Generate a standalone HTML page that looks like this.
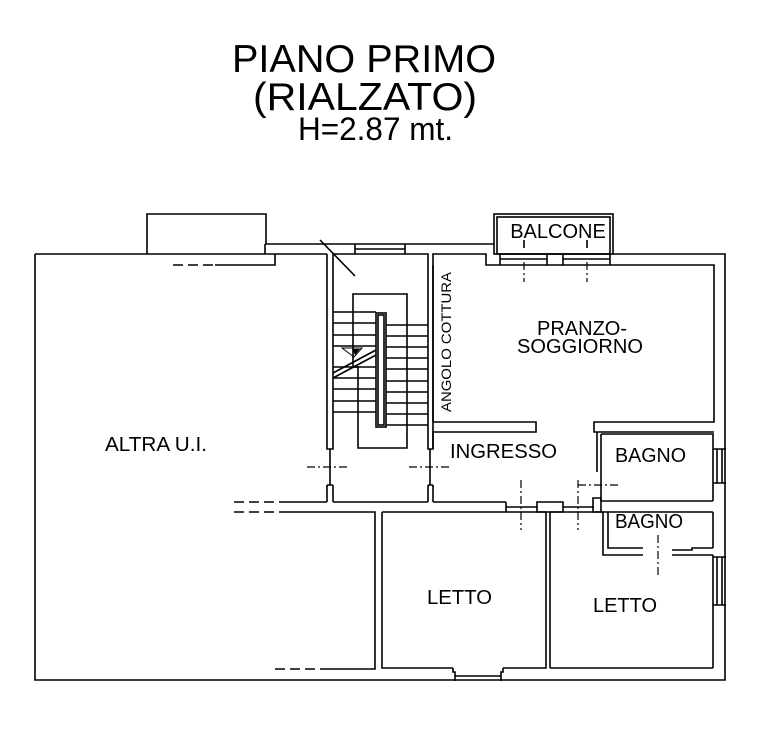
<!DOCTYPE html>
<html><head><meta charset="utf-8"><style>
html,body{margin:0;padding:0;background:#fff;}
svg{display:block;}
text{font-family:"Liberation Sans",Arial,sans-serif;fill:#000;}
</style></head><body>
<svg width="758" height="756" viewBox="0 0 758 756" xmlns="http://www.w3.org/2000/svg">
<rect width="758" height="756" fill="#fff"/>
<text x="232" y="72" font-size="39" textLength="264" lengthAdjust="spacingAndGlyphs">PIANO PRIMO</text>
<text x="253" y="110" font-size="39" textLength="224" lengthAdjust="spacingAndGlyphs">(RIALZATO)</text>
<text x="298" y="140" font-size="32" textLength="155" lengthAdjust="spacingAndGlyphs">H=2.87 mt.</text>

<g stroke="#000" stroke-width="1.6" fill="none">
<!-- left unit outline -->
<path d="M35,254 V680 H725 V254 H613"/>
<path d="M35,254 H147 V214 H266 V244 H355"/>
<path d="M147,254 H265 V244 M265,254 H275 V265 H215"/>
<path d="M275,254 H327"/>
<!-- stair walls -->
<path d="M327,254 V449 H333 V254 H428 V449 H433 V254 H486 V265 H500"/>
<path d="M327,485 V502 M333,485 V502 M327,485 H333 M428,485 H433 M428,485 V502 M433,485 V502"/>
<path d="M330,449 V485 M430,449 V485"/>
<!-- stair window -->
<path d="M355,244 H405 M355,249 H405 M355,244 V254 M405,244 V254"/>
<path d="M405,244 H494"/>
<!-- balcone -->
<rect x="494" y="214" width="119" height="40"/>
<rect x="497" y="217" width="113" height="37"/>
<path d="M500,254 V265 M500,259 H547 M547,254 V265 H563 V254 M563,259 H610 M610,254 V265"/>
<path d="M610,265 H714 V422 H594 V432 H714 M433,265 V422 M500,265 H547 M563,265 H610"/>
<path d="M433,422 H536 V432 H433 V449"/>
<path d="M524,240 V248 M587,240 V248"/>
<!-- corridor wall -->
<path d="M279,502 H327 M333,502 H428 M433,502 H506"/>
<path d="M279,512 H375 V669 H321"/>
<path d="M382,512 H546 V668 H503 M453,668 H382 V512"/>
<path d="M506,502 V512 M506,507 H537 M537,502 H563 V512 H537 Z M563,507 H594"/>
<path d="M550,668 V512 H603 V555 H643 M672,555 H713"/>
<path d="M550,668 H713"/>
<!-- LETTO1 window -->
<path d="M453,668 V672 H455 V681 M503,668 V672 H501 V681 M455,676 H501"/>
<!-- bagno1 -->
<path d="M597,432 V472 M601,434 V501 H713 M601,434 H713 V501"/>
<path d="M593,498 H601 V512 H593 Z M601,512 H713 M608,512 V548 H643 M672,550 H692 V548 H713"/>
<!-- right windows -->
<path d="M713,449 H726 M713,483 H726 M717,449 V483 M722,449 V483"/>
<path d="M713,557 H726 M713,605 H726 M717,557 V605 M722,557 V605"/>
<path d="M713,512 V548 M713,555 V668"/>
<!-- stair -->
<path d="M320,240 L355,276"/>
<path d="M353,294 H407 V448 H358 V367 H353 Z"/>
<rect x="376" y="313" width="10" height="114"/>
<rect x="378" y="315" width="6" height="110"/>
<path d="M333,312 H376 M333,323 H376 M333,335 H376 M333,346 H376 M333,367 H376 M333,378 H376 M333,389 H376 M333,401 H376 M333,412 H376"/>
<path d="M386,325 H428 M386,336 H428 M386,347 H428 M386,358 H428 M386,369 H428 M386,381 H428 M386,392 H428 M386,403 H428 M386,414 H428 M386,425 H428"/>
<path d="M333,378 L376,355 M333,373 L376,350"/>
<path d="M342,348 H362 L354,357 Z" stroke-width="1"/>
</g>
<path d="M352,349 L360,349 L355,355 Z" fill="#000"/>
<g stroke="#000" stroke-width="1.4" stroke-dasharray="10,5">
<path d="M173,265 H215"/>
<path d="M234,502 H279 M234,512 H279"/>
<path d="M275,669 H321"/>
</g>
<g stroke="#000" stroke-width="1.2" stroke-dasharray="8,3,2,3">
<path d="M307,467 H350 M409,467 H451 M578,485 H620"/>
<path d="M521,480 V530 M578,480 V530 M658,535 V575"/>
<path d="M524,262 V282 M587,262 V282"/>
</g>

<text x="558" y="238" font-size="20" text-anchor="middle">BALCONE</text>
<text x="582" y="335" font-size="20" text-anchor="middle">PRANZO-</text>
<text x="580" y="353" font-size="20" text-anchor="middle" textLength="126" lengthAdjust="spacingAndGlyphs">SOGGIORNO</text>
<text transform="translate(451,342) rotate(-90)" font-size="14" text-anchor="middle" textLength="140" lengthAdjust="spacingAndGlyphs">ANGOLO COTTURA</text>
<text x="105" y="451" font-size="20" textLength="102" lengthAdjust="spacingAndGlyphs">ALTRA U.I.</text>
<text x="450" y="458" font-size="20" textLength="107" lengthAdjust="spacingAndGlyphs">INGRESSO</text>
<text x="615" y="462" font-size="20" textLength="71" lengthAdjust="spacingAndGlyphs">BAGNO</text>
<text x="615" y="528" font-size="20" textLength="68" lengthAdjust="spacingAndGlyphs">BAGNO</text>
<text x="427" y="604" font-size="20" textLength="65" lengthAdjust="spacingAndGlyphs">LETTO</text>
<text x="593" y="612" font-size="20" textLength="64" lengthAdjust="spacingAndGlyphs">LETTO</text>
</svg>
</body></html>
